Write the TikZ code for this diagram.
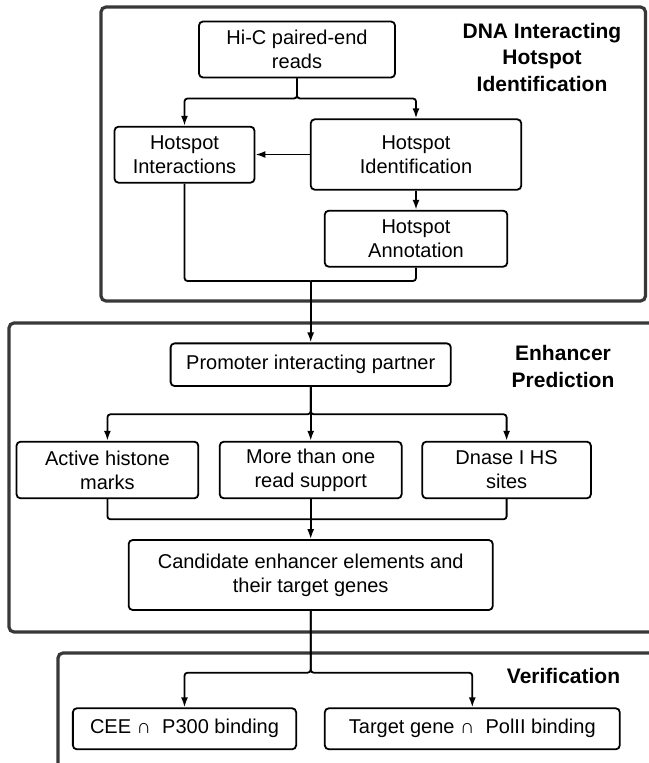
\documentclass[tikz,border=0pt]{standalone}
\usepackage{fontspec}
\setmainfont{Liberation Sans}
\usetikzlibrary{arrows.meta}
\tikzset{>={Latex[length=10pt,width=7pt]}}

\begin{document}
\begin{tikzpicture}[x=1pt,y=-1pt]
	\tikzstyle{frame} = [draw=black!78, line width=3.2pt, rounded corners=5pt]
	\tikzstyle{box} = [draw=black, line width=1.8pt, rounded corners=4pt, inner sep=0pt, align=center, font=\fontsize{20}{24}\selectfont]
	\tikzstyle{title} = [align=center, font=\bfseries\fontsize{21}{26.5}\selectfont]
	\tikzstyle{link} = [line width=1.8pt, rounded corners=3pt]

	\useasboundingbox (0,0) rectangle (648,763);

%----------Frames-------------------------------------------
	\draw[frame] (101,7) rectangle (645.5,301);
	\draw[frame] (9,323) rectangle (690,632);
	\draw[frame] (58,653) rectangle (690,800);

%----------DNA Interacting Hotspot Identification------------
	\node[title] (t1) at (542,57) {DNA Interacting\\Hotspot\\Identification};

	\node[box, minimum width=196pt, minimum height=56pt] (hic) at (297,49.5) {Hi-C paired-end\\reads};
	\node[box, minimum width=140pt, minimum height=56pt] (inter) at (184.5,154.7) {Hotspot\\Interactions};
	\node[box, minimum width=210.5pt, minimum height=70.4pt] (ident) at (416,154.5) {Hotspot\\Identification};
	\node[box, minimum width=182.5pt, minimum height=56pt] (annot) at (416,238.7) {Hotspot\\Annotation};

	\coordinate (s1) at (297,98.5);
	\draw[->, link] (hic.south) -- (s1) -| (inter.north);
	\draw[->, link] (hic.south) -- (s1) -| (ident.north);
	\draw[->, link] (ident.west) -- (ident.west -| inter.east);
	\draw[->, link] (ident.south) -- (annot.north);

	\coordinate (m1) at (310.7,281);
	\draw[link] (inter.south) |- (m1);
	\draw[link] (annot.south) |- (m1);

%----------Enhancer Prediction-------------------------------
	\node[title] (t2) at (563,366.5) {Enhancer\\Prediction};

	\node[box, minimum width=280.2pt, minimum height=42.7pt] (prom) at (310.7,364.7) {Promoter interacting partner};
	\node[box, minimum width=181.8pt, minimum height=56.6pt] (active) at (107.4,470) {Active histone\\marks};
	\node[box, minimum width=181.9pt, minimum height=56.6pt] (more) at (310.7,470) {More than one\\read support};
	\node[box, minimum width=168.6pt, minimum height=56.6pt] (dnase) at (506.6,470) {Dnase I HS\\sites};
	\node[box, minimum width=364.1pt, minimum height=70pt] (cand) at (310.7,575) {Candidate enhancer elements and\\their target genes};

	\draw[->, link] (m1) -- (prom.north);

	\coordinate (s2) at (310.7,414.3);
	\draw[->, link] (prom.south) -- (s2) -| (active.north);
	\draw[->, link] (prom.south) -- (more.north);
	\draw[->, link] (prom.south) -- (s2) -| (dnase.north);

	\coordinate (m2) at (310.7,519.3);
	\draw[link] (active.south) |- (m2);
	\draw[link] (dnase.south) |- (m2);
	\draw[->, link] (more.south) -- (cand.north);

%----------Verification--------------------------------------
	\node[title] (t3) at (563.5,676) {Verification};

	\node[box, minimum width=223.3pt, minimum height=41pt] (cee) at (184.5,728.8) {CEE ∩\ \ P300 binding};
	\node[box, minimum width=295pt, minimum height=41pt] (target) at (472.3,728.8) {Target gene ∩\ \ PolII binding};

	\coordinate (s3) at (310.7,672.7);
	\draw[->, link] (cand.south) -- (s3) -| (cee.north);
	\draw[->, link] (cand.south) -- (s3) -| (target.north);

\end{tikzpicture}
\end{document}
